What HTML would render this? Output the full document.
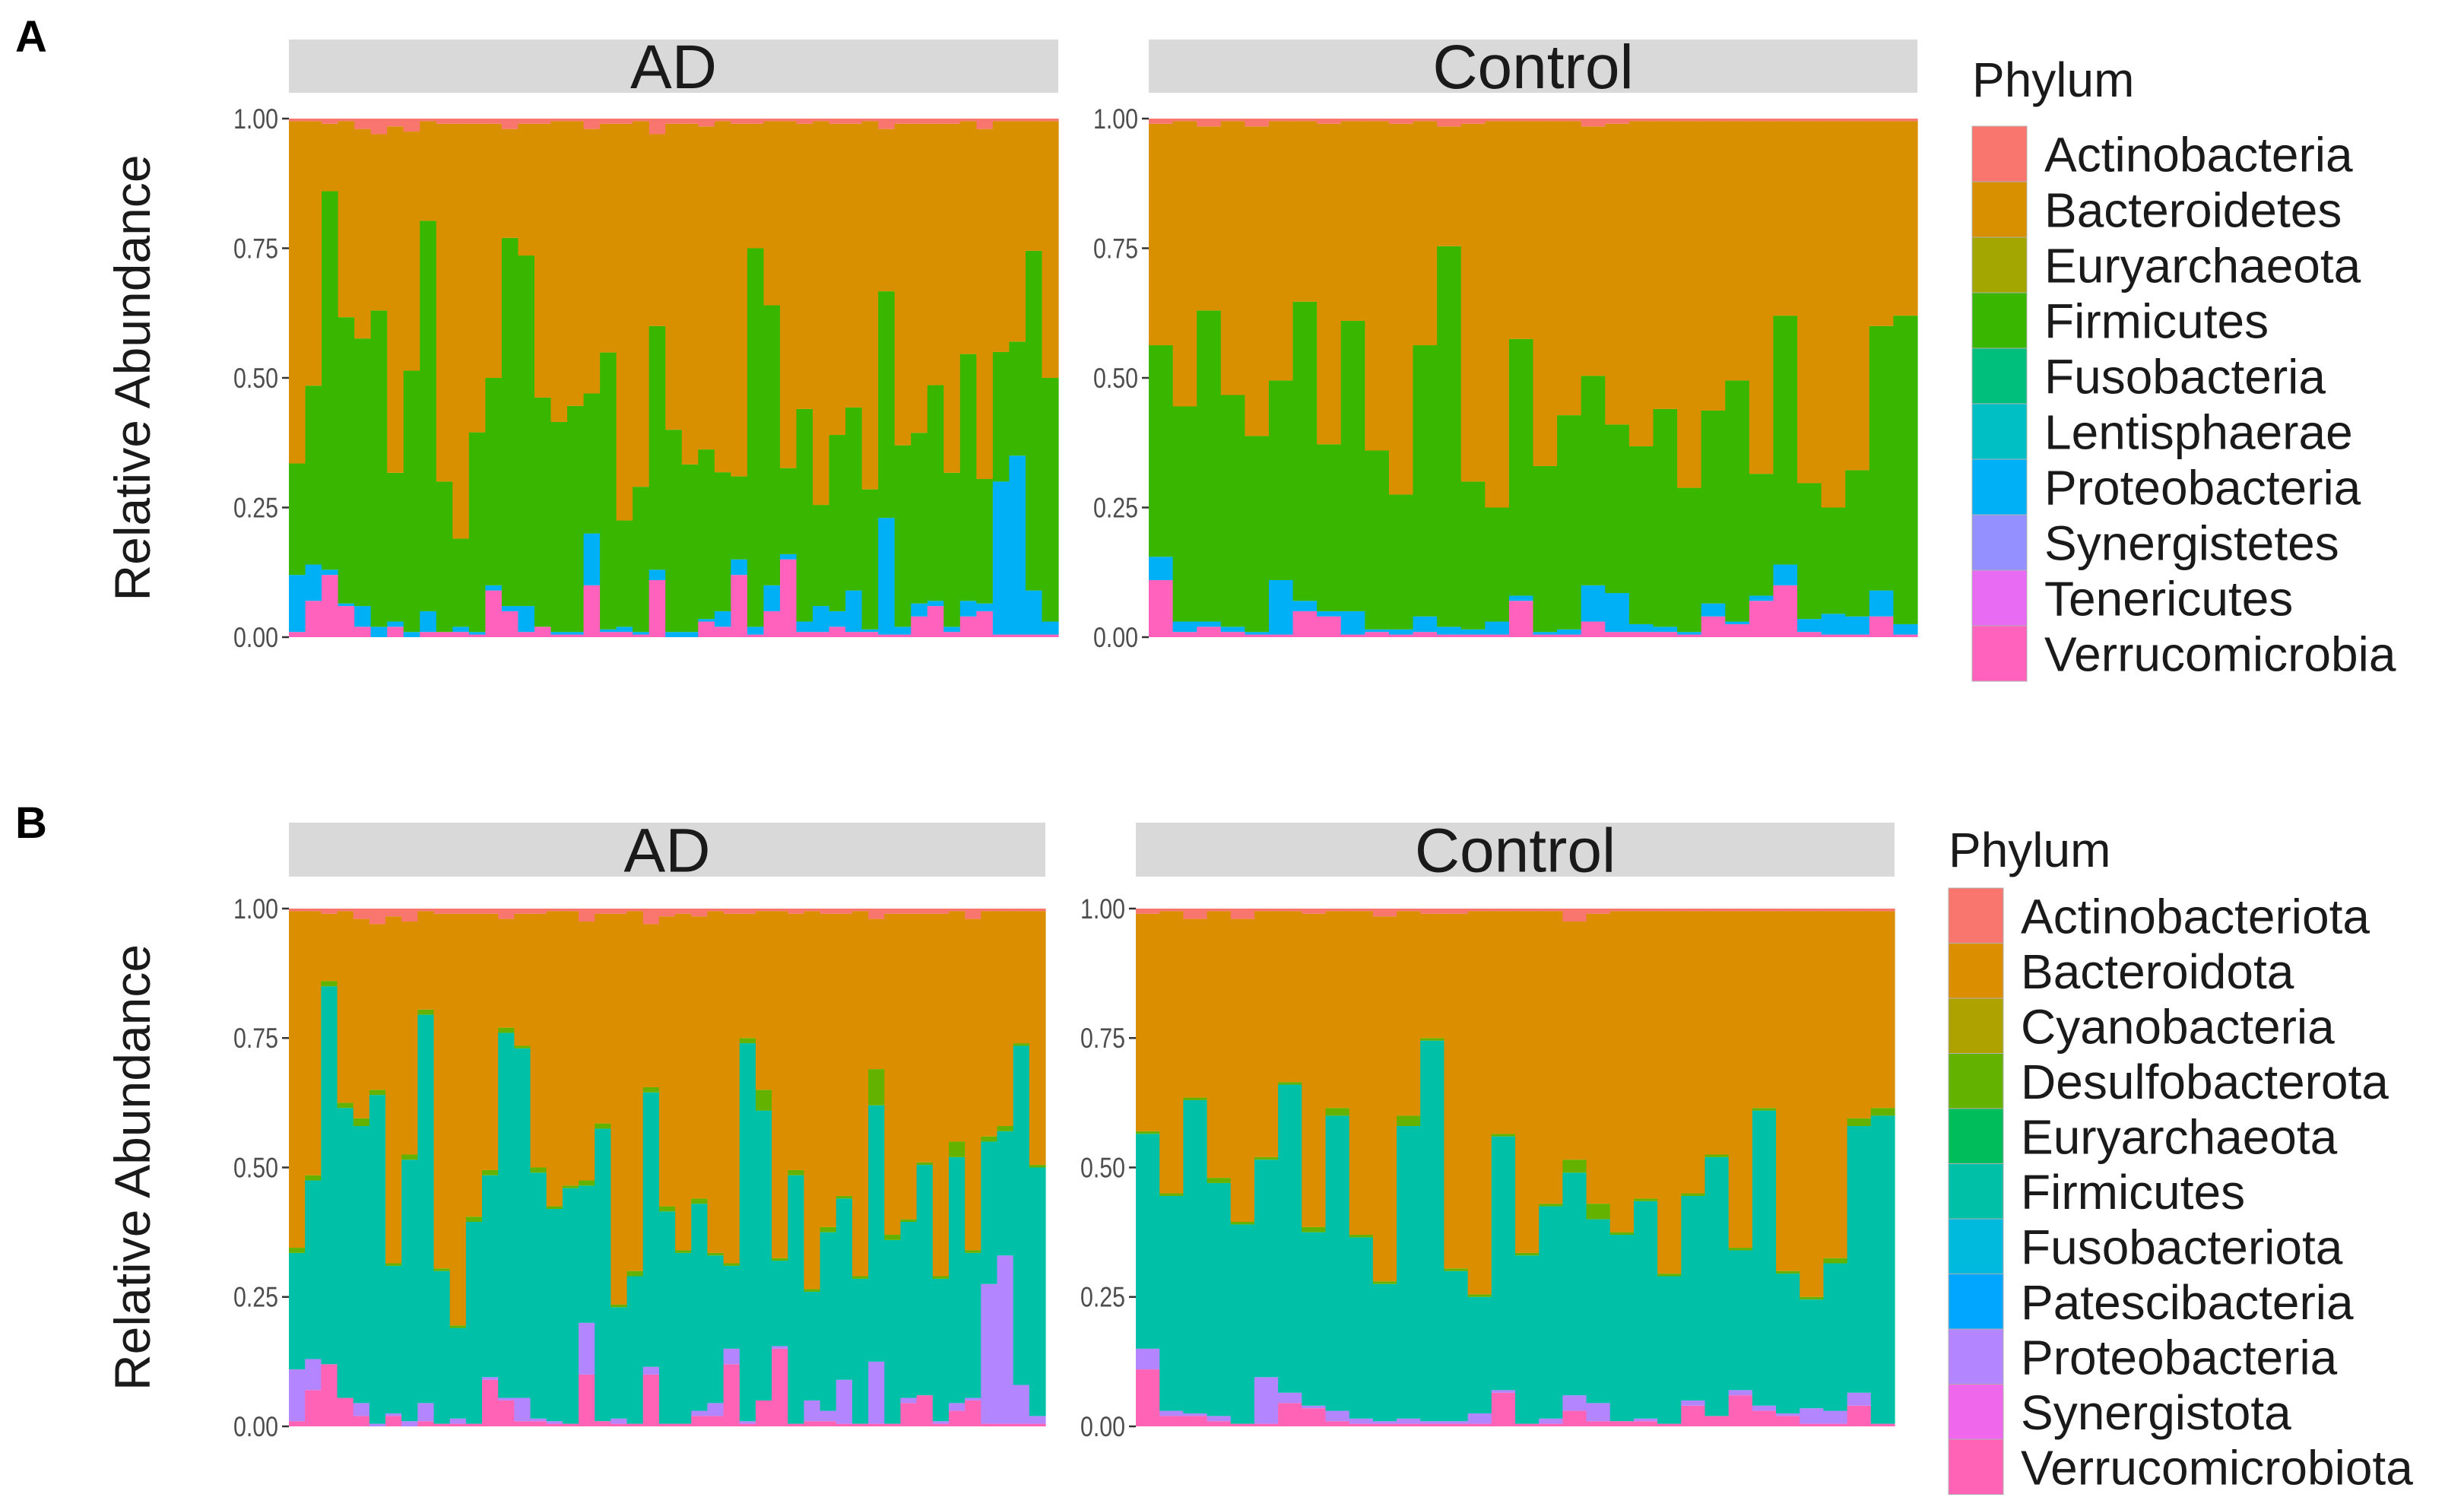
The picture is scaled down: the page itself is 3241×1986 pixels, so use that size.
<!DOCTYPE html>
<html><head><meta charset="utf-8"><style>
html,body{margin:0;padding:0;background:#fff;}
svg{display:block;font-family:"Liberation Sans",sans-serif;}
</style></head><body>
<svg id="chart" width="3241" height="1986" viewBox="0 0 3241 1986"></svg>
<script>
// ---------- data: panel A ----------
const adFirmTopA=[0.335,0.485,0.86,0.617,0.576,0.63,0.317,0.514,0.803,0.30,0.19,0.395,0.50,0.77,0.736,0.462,0.415,0.446,0.47,0.549,0.225,0.29,0.60,0.40,0.333,0.362,0.318,0.31,0.75,0.64,0.326,0.44,0.255,0.39,0.443,0.285,0.667,0.37,0.394,0.486,0.317,0.546,0.305,0.55,0.57,0.745,0.50];
const adVerruA=[0.01,0.07,0.12,0.06,0.02,0,0.02,0,0.01,0.01,0.01,0.005,0.09,0.05,0.01,0.02,0.005,0.005,0.10,0.01,0.01,0.005,0.11,0,0,0.03,0.02,0.12,0.005,0.05,0.15,0.01,0.01,0.02,0.01,0.01,0.005,0.005,0.04,0.06,0.01,0.04,0.05,0.005,0.005,0.005,0.005];
const adProteoTopA=[0.12,0.14,0.13,0.065,0.06,0.02,0.03,0.01,0.05,0.01,0.02,0.01,0.10,0.06,0.06,0.02,0.01,0.01,0.20,0.015,0.02,0.01,0.13,0.01,0.01,0.035,0.05,0.15,0.02,0.10,0.16,0.03,0.06,0.05,0.09,0.015,0.23,0.02,0.065,0.07,0.02,0.07,0.065,0.30,0.35,0.09,0.03];
const adActinoA=[0.005,0.005,0.01,0.005,0.02,0.03,0.015,0.025,0.005,0.01,0.01,0.01,0.01,0.02,0.01,0.01,0.005,0.005,0.02,0.01,0.01,0.005,0.03,0.01,0.01,0.015,0.005,0.01,0.01,0.005,0.005,0.01,0.005,0.01,0.01,0.005,0.02,0.01,0.01,0.01,0.01,0.005,0.02,0.005,0.005,0.005,0.005];
const ctFirmTopA=[0.563,0.445,0.63,0.467,0.388,0.495,0.647,0.372,0.61,0.36,0.275,0.563,0.754,0.30,0.25,0.575,0.33,0.428,0.504,0.41,0.368,0.44,0.288,0.437,0.495,0.315,0.62,0.297,0.25,0.322,0.60,0.62];
const ctVerruA=[0.11,0.01,0.02,0.01,0.005,0.005,0.05,0.04,0.005,0.01,0.005,0.01,0.005,0.005,0.005,0.07,0.005,0.005,0.03,0.01,0.01,0.01,0.005,0.04,0.025,0.07,0.10,0.01,0.005,0.005,0.04,0.005];
const ctProteoTopA=[0.155,0.03,0.03,0.02,0.01,0.11,0.07,0.05,0.05,0.015,0.015,0.04,0.02,0.015,0.03,0.08,0.01,0.015,0.10,0.085,0.025,0.02,0.01,0.065,0.03,0.08,0.14,0.035,0.045,0.04,0.09,0.025];
const ctActinoA=[0.01,0.005,0.015,0.005,0.015,0.005,0.005,0.01,0.005,0.005,0.01,0.005,0.015,0.01,0.005,0.005,0.005,0.005,0.015,0.01,0.005,0.005,0.005,0.005,0.005,0.005,0.005,0.005,0.005,0.005,0.005,0.005];
// ---------- data: panel B ----------
const adFirmTopB=[0.335,0.475,0.85,0.615,0.58,0.64,0.31,0.515,0.795,0.30,0.19,0.395,0.485,0.76,0.73,0.49,0.42,0.46,0.465,0.575,0.23,0.29,0.645,0.415,0.335,0.43,0.33,0.31,0.74,0.61,0.32,0.485,0.26,0.375,0.44,0.285,0.62,0.36,0.395,0.505,0.285,0.52,0.335,0.55,0.57,0.735,0.50];
const adDesulfoB=[0.01,0.01,0.01,0.01,0.015,0.01,0.005,0.01,0.01,0.005,0.005,0.01,0.01,0.01,0.005,0.01,0.005,0.005,0.01,0.01,0.005,0.01,0.01,0.01,0.005,0.01,0.005,0.005,0.01,0.04,0.005,0.01,0.005,0.01,0.005,0.005,0.07,0.01,0.005,0.005,0.005,0.03,0.005,0.01,0.01,0.005,0.005];
const adVerruB=[0.01,0.07,0.12,0.055,0.02,0,0.02,0,0.01,0.005,0.005,0.005,0.09,0.05,0.01,0.01,0.005,0.005,0.10,0.01,0.005,0.005,0.10,0.005,0.005,0.02,0.02,0.12,0.005,0.05,0.15,0.005,0.01,0.01,0.005,0.005,0.005,0.005,0.045,0.06,0.005,0.03,0.05,0.005,0.005,0.005,0.005];
const adProteoTopB=[0.11,0.13,0.12,0.055,0.045,0.005,0.025,0.01,0.045,0.005,0.015,0.005,0.095,0.055,0.055,0.015,0.01,0.005,0.20,0.01,0.015,0.005,0.115,0.005,0.005,0.03,0.045,0.15,0.01,0.05,0.155,0.005,0.05,0.03,0.09,0.005,0.125,0.005,0.055,0.06,0.01,0.045,0.055,0.275,0.33,0.08,0.02];
const adActinoB=[0.005,0.005,0.01,0.005,0.02,0.03,0.015,0.025,0.005,0.01,0.01,0.01,0.01,0.02,0.01,0.01,0.005,0.005,0.025,0.01,0.01,0.005,0.03,0.015,0.01,0.015,0.005,0.01,0.01,0.005,0.005,0.01,0.005,0.01,0.01,0.005,0.02,0.01,0.01,0.01,0.01,0.005,0.02,0.005,0.005,0.005,0.005];
const ctFirmTopB=[0.565,0.445,0.63,0.47,0.39,0.515,0.66,0.375,0.60,0.365,0.275,0.58,0.745,0.30,0.25,0.56,0.33,0.425,0.49,0.40,0.37,0.435,0.29,0.445,0.52,0.34,0.61,0.295,0.245,0.315,0.58,0.60];
const ctDesulfoB=[0.005,0.005,0.005,0.01,0.005,0.005,0.005,0.01,0.015,0.005,0.005,0.02,0.005,0.005,0.005,0.005,0.005,0.005,0.025,0.03,0.005,0.005,0.005,0.005,0.005,0.005,0.005,0.005,0.005,0.01,0.015,0.015];
const ctVerruB=[0.11,0.02,0.02,0.01,0.005,0.005,0.045,0.035,0.01,0.005,0.005,0.005,0.005,0.005,0.005,0.065,0.005,0.005,0.03,0.01,0.01,0.01,0.005,0.04,0.02,0.06,0.03,0.02,0.005,0.005,0.04,0.005];
const ctProteoTopB=[0.15,0.03,0.025,0.02,0.005,0.095,0.065,0.04,0.03,0.015,0.01,0.015,0.01,0.01,0.025,0.07,0.005,0.015,0.06,0.045,0.01,0.015,0.005,0.05,0.02,0.07,0.04,0.025,0.035,0.03,0.065,0.005];
const ctActinoB=[0.01,0.005,0.02,0.005,0.02,0.005,0.005,0.01,0.005,0.005,0.015,0.005,0.01,0.01,0.005,0.005,0.005,0.005,0.025,0.01,0.005,0.005,0.005,0.005,0.005,0.005,0.005,0.005,0.005,0.005,0.005,0.005];
const yTicks=[0,0.25,0.5,0.75,1];
const yTickLabels=["0.00","0.25","0.50","0.75","1.00"];
const legendA=["Actinobacteria","Bacteroidetes","Euryarchaeota","Firmicutes","Fusobacteria","Lentisphaerae","Proteobacteria","Synergistetes","Tenericutes","Verrucomicrobia"];
const legendB=["Actinobacteriota","Bacteroidota","Cyanobacteria","Desulfobacterota","Euryarchaeota","Firmicutes","Fusobacteriota","Patescibacteria","Proteobacteria","Synergistota","Verrucomicrobiota"];
const colorsA=["#F8766D","#D89000","#A3A500","#39B600","#00BF7D","#00BFC4","#00B0F6","#9590FF","#E76BF3","#FF62BC"];
const colorsB=["#F8766D","#DB8E00","#AEA200","#64B200","#00BD5C","#00C0A7","#00BADE","#00A6FF","#B385FF","#EF67EB","#FF63B6"];

const NS="http://www.w3.org/2000/svg";
const svg=document.getElementById('chart');
function mk(tag,attrs,parent){const e=document.createElementNS(NS,tag);for(const k in attrs)e.setAttribute(k,attrs[k]);(parent||svg).appendChild(e);return e;}

function panel(x0,x1,yTop,yBot,stripY0,stripY1,title,firm,desulfo,verru,proteo,actino,cols,pname,showAxisTitle){
  const g=mk('g',{});
  
  
  const strip=mk('rect',{x:x0,y:stripY0,width:x1-x0,height:stripY1-stripY0,fill:'#D9D9D9'},g);
  
  
  const st=mk('text',{x:(x0+x1)/2,y:(stripY0+stripY1)/2+29,'text-anchor':'middle','font-size':82,fill:'#1a1a1a'},g);
  st.textContent=title;
  
  
  const n=firm.length, bw=(x1-x0)/n;
  const ys=v=>yBot-(yBot-yTop)*v;
  const isB=desulfo!==null;
  const cVerru=cols[cols.length-1], cProteo=isB?cols[8]:cols[6], cFirm=isB?cols[5]:cols[3], cBact=cols[1], cAct=cols[0];
  for(let i=0;i<n;i++){
    const bx=x0+i*bw;
    const segs=[];
    segs.push([0,verru[i],cVerru,'verrucomicrobia']);
    segs.push([verru[i],Math.max(verru[i],proteo[i]),cProteo,'proteobacteria']);
    segs.push([Math.max(verru[i],proteo[i]),firm[i],cFirm,'firmicutes']);
    let ft=firm[i];
    if(isB){segs.push([ft,ft+desulfo[i],cols[3],'desulfobacterota']);ft+=desulfo[i];}
    segs.push([ft,1-actino[i],cBact,'bacteroidetes']);
    segs.push([1-actino[i],1,cAct,'actinobacteria']);
    for(const s of segs){
      if(s[1]<=s[0])continue;
      const r=mk('rect',{x:bx,y:ys(s[1]),width:bw+0.6,height:ys(s[0])-ys(s[1]),fill:s[2]},g);
      
      
    }
  }
  for(let k=0;k<yTicks.length;k++){
    const y=ys(yTicks[k]);
    mk('line',{x1:x0-9,x2:x0,y1:y,y2:y,stroke:'#333','stroke-width':2.5},g);
    const t=mk('text',{x:x0-14,y:y+13,'text-anchor':'end','font-size':37,fill:'#4D4D4D',transform:`translate(${x0-14},0) scale(0.82,1) translate(${-(x0-14)},0)`},g);
    t.textContent=yTickLabels[k];
    
    
  }
  if(showAxisTitle){
    const cy=(yTop+yBot)/2;
    const at=mk('text',{x:0,y:0,'text-anchor':'middle','font-size':66,fill:'#1a1a1a',transform:`translate(197,${cy}) rotate(-90)`},g);
    at.textContent='Relative Abundance';
    
    
  }
}

function legend(x,titleY,keyY0,keyH,labels,cols,lname){
  const g=mk('g',{});
  
  
  const tt=mk('text',{x:x,y:titleY,'font-size':64,fill:'#1a1a1a'},g);
  tt.textContent='Phylum';
  
  
  for(let i=0;i<labels.length;i++){
    const ky=keyY0+i*keyH;
    const r=mk('rect',{x:x,y:ky,width:72,height:keyH,fill:cols[i],stroke:'#b0b0b0','stroke-width':1},g);
    
    
    const t=mk('text',{x:x+95,y:ky+keyH/2+23,'font-size':64,fill:'#1a1a1a'},g);
    t.textContent=labels[i];
    
    
  }
}

const la=mk('text',{x:20,y:68,'font-size':58,'font-weight':'bold',fill:'#000'});
la.textContent='A';


const lb=mk('text',{x:20,y:1102,'font-size':58,'font-weight':'bold',fill:'#000'});
lb.textContent='B';



panel(380,1392,156,838,52,122,'AD',adFirmTopA,null,adVerruA,adProteoTopA,adActinoA,colorsA,'a-ad',true);
panel(1511,2522,156,838,52,122,'Control',ctFirmTopA,null,ctVerruA,ctProteoTopA,ctActinoA,colorsA,'a-control',false);
panel(380,1375,1195,1876,1082,1153,'AD',adFirmTopB,adDesulfoB,adVerruB,adProteoTopB,adActinoB,colorsB,'b-ad',true);
panel(1494,2492,1195,1876,1082,1153,'Control',ctFirmTopB,ctDesulfoB,ctVerruB,ctProteoTopB,ctActinoB,colorsB,'b-control',false);

legend(2594,127,166,73,legendA,colorsA,'legend-a');
legend(2563,1140,1168,72.5,legendB,colorsB,'legend-b');
</script>
</body></html>
